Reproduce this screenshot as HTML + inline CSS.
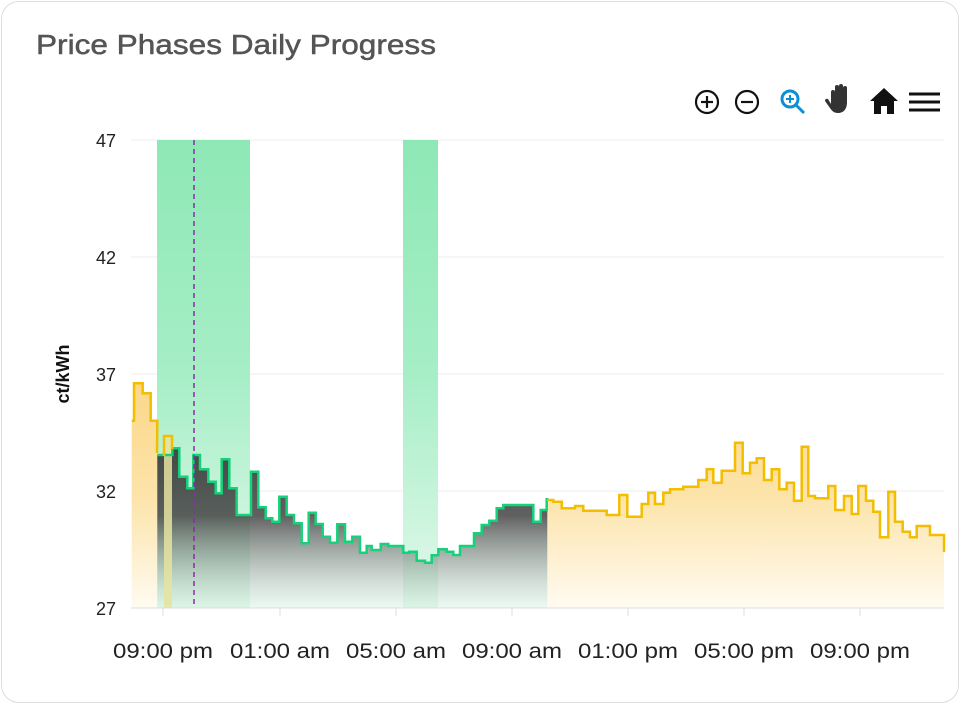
<!DOCTYPE html>
<html><head><meta charset="utf-8"><style>
body{margin:0;background:#fff;width:962px;height:706px;overflow:hidden;font-family:"Liberation Sans",sans-serif}
.card{position:absolute;left:1px;top:1px;width:958px;height:702px;border:1px solid #ddd;border-radius:18px;box-sizing:border-box}
</style></head><body>
<div class="card"></div>
<svg width="962" height="706" style="position:absolute;left:0;top:0" id="s">
<defs>
<linearGradient id="gb" x1="0" y1="0" x2="0" y2="1"><stop offset="0" stop-color="#8ee8b6"/><stop offset="0.5" stop-color="#a6eec6"/><stop offset="1" stop-color="#e3f9ec"/></linearGradient>
<linearGradient id="gd" gradientUnits="userSpaceOnUse" x1="0" y1="440" x2="0" y2="608"><stop offset="0" stop-color="#3c3c3c" stop-opacity="0.95"/><stop offset="0.45" stop-color="#444" stop-opacity="0.85"/><stop offset="1" stop-color="#cfeedd" stop-opacity="0.4"/></linearGradient>
<linearGradient id="gy" gradientUnits="userSpaceOnUse" x1="0" y1="380" x2="0" y2="608"><stop offset="0" stop-color="#fbd888"/><stop offset="0.5" stop-color="#fce3a8"/><stop offset="1" stop-color="#fffbf1"/></linearGradient>
</defs>
<text x="36" y="54" font-size="28" fill="#555" stroke="#555" stroke-width="0.5" textLength="400" lengthAdjust="spacingAndGlyphs">Price Phases Daily Progress</text>
<g stroke="#eee" stroke-width="1">
<line x1="131" y1="140" x2="944" y2="140"/><line x1="131" y1="257" x2="944" y2="257"/><line x1="131" y1="374" x2="944" y2="374"/><line x1="131" y1="491" x2="944" y2="491"/>
</g>
<rect x="157" y="140" width="93" height="468" fill="url(#gb)"/>
<rect x="403" y="140" width="35" height="468" fill="url(#gb)"/>
<g id="series"></g>
<line x1="194" y1="140" x2="194" y2="608" stroke="#8e2aa8" stroke-width="1.5" stroke-dasharray="5,4"/>
<line x1="131" y1="608" x2="944" y2="608" stroke="#ddd"/>
<g stroke="#ddd"><line x1="163" y1="608" x2="163" y2="616"/><line x1="280" y1="608" x2="280" y2="616"/><line x1="396" y1="608" x2="396" y2="616"/><line x1="512" y1="608" x2="512" y2="616"/><line x1="628" y1="608" x2="628" y2="616"/><line x1="744" y1="608" x2="744" y2="616"/><line x1="860" y1="608" x2="860" y2="616"/></g>
<g font-size="21" fill="#222" text-anchor="middle">
<text x="163" y="658" textLength="100" lengthAdjust="spacingAndGlyphs">09:00 pm</text><text x="280" y="658" textLength="100" lengthAdjust="spacingAndGlyphs">01:00 am</text><text x="396" y="658" textLength="100" lengthAdjust="spacingAndGlyphs">05:00 am</text><text x="512" y="658" textLength="100" lengthAdjust="spacingAndGlyphs">09:00 am</text><text x="628" y="658" textLength="100" lengthAdjust="spacingAndGlyphs">01:00 pm</text><text x="744" y="658" textLength="100" lengthAdjust="spacingAndGlyphs">05:00 pm</text><text x="860" y="658" textLength="100" lengthAdjust="spacingAndGlyphs">09:00 pm</text>
</g>
<g font-size="18" fill="#222" text-anchor="end">
<text x="116" y="147">47</text><text x="116" y="264">42</text><text x="116" y="381">37</text><text x="116" y="498">32</text><text x="116" y="615">27</text>
</g>
<text transform="translate(69,374) rotate(-90)" font-size="18" font-weight="bold" text-anchor="middle" fill="#111">ct/kWh</text>
<g fill="none" stroke="#111" stroke-width="2.2">
<circle cx="707" cy="102" r="11"/><line x1="701" y1="102" x2="713" y2="102"/><line x1="707" y1="96" x2="707" y2="108"/>
<circle cx="747" cy="102" r="11"/><line x1="741" y1="102" x2="753" y2="102"/>
</g>
<g fill="none" stroke="#0a8fd8" stroke-width="3"><circle cx="790" cy="99" r="8"/><line x1="796" y1="105" x2="804" y2="113"/></g>
<g stroke="#0a8fd8" stroke-width="2"><line x1="786" y1="99" x2="794" y2="99"/><line x1="790" y1="95" x2="790" y2="103"/></g>
<path d="M831 104 v-12 a2 2 0 0 1 4 0 v6 v-11 a2 2 0 0 1 4 0 v10 v-11 a2 2 0 0 1 4 0 v11 v-9 a2 2 0 0 1 4 0 v14 c0 8 -4 11 -9 11 c-4 0 -6 -2 -8 -5 l-5 -7 a2 2 0 0 1 3 -2 z" fill="#333"/>
<path d="M884 88 L870 101 H874 V114 H881 V106 H887 V114 H894 V101 H898 Z" fill="#111"/>
<g stroke="#111" stroke-width="3"><line x1="909" y1="94" x2="940" y2="94"/><line x1="909" y1="102" x2="940" y2="102"/><line x1="909" y1="110" x2="940" y2="110"/></g>
</svg>
<script>
function build(x0,y0,start,steps){var pts=[];var cx=x0+start[0]/3,cy=y0+start[1]/3;pts.push([cx,cy]);
steps.forEach(function(s){var ny=y0+s[0]/3,nx=x0+s[1]/3;pts.push([cx,ny]);pts.push([nx,ny]);cx=nx;cy=ny;});return pts;}
function line(p){return 'M'+p.map(function(a){return a[0].toFixed(1)+' '+a[1].toFixed(1)}).join(' L');}
function area(p){return line(p)+' L'+p[p.length-1][0].toFixed(1)+' 608 L'+p[0][0].toFixed(1)+' 608 Z';}
var yl=build(120,370,[35,152],[[152,42],[40,68],[70,92],[152,112]]);
yl.push([157,453]);
var gr=build(120,370,[112,255],[[255,157],[235,178],[320,202],[355,220],[255,240],[298,265],[335,287],[370,305],[268,328],[355,350],[435,393],[305,415],[412,437],[445,457],[455,478],[380,500],[435,522],[460,545],[520,566],[428,587],[462,608],[500,630],[518,652],[463,675],[515,697],[500,720],[548,740],[528,755],[540,782],[522,805],[528,850],[548,868],[545,890],[572,915],[578,935],[556,955],[538,980],[545,1000],[555,1020],[528,1062],[490,1085],[465,1108],[452,1130],[415,1150],[405,1240],[455,1262],[420,1280],[388,1285]]);
var yr=build(540,420,[22,240],[[240,40],[245,65],[265,105],[258,130],[272,200],[285,238],[225,262],[290,305],[252,325],[218,345],[252,370],[218,390],[208,430],[200,475],[180,500],[148,520],[188,545],[152,585],[68,608],[160,630],[128,650],[115,672],[180,695],[148,718],[208,740],[188,762],[242,785],[80,805],[228,825],[235,865],[198,886],[270,912],[228,935],[282,955],[198,978],[242,1000],[275,1020],[352,1045],[215,1065],[305,1088],[335,1110],[352,1130],[318,1170],[345,1212]]);
yr.push([944,537]);yr.push([944,552]);
var h='';
h+='<path d="'+area(yl)+'" fill="url(#gy)"/>';
h+='<path d="'+area(gr)+'" fill="url(#gd)"/>';
h+='<path d="'+area(yr)+'" fill="url(#gy)"/>';
h+='<path d="M164 608 L164 436 L172 436 L172 608 Z" fill="#e6e3a0" opacity="0.85"/>';
h+='<path d="'+line(gr)+'" fill="none" stroke="#14d27a" stroke-width="2.5"/>';
h+='<path d="'+line(yl)+'" fill="none" stroke="#f3bd00" stroke-width="2.5"/>';
h+='<path d="M164 456 L164 436 L172 436 L172 449" fill="none" stroke="#f3bd00" stroke-width="2.5"/>';
h+='<path d="'+line(yr)+'" fill="none" stroke="#f3bd00" stroke-width="2.5"/>';
document.getElementById('series').innerHTML=h;
</script>
</body></html>
